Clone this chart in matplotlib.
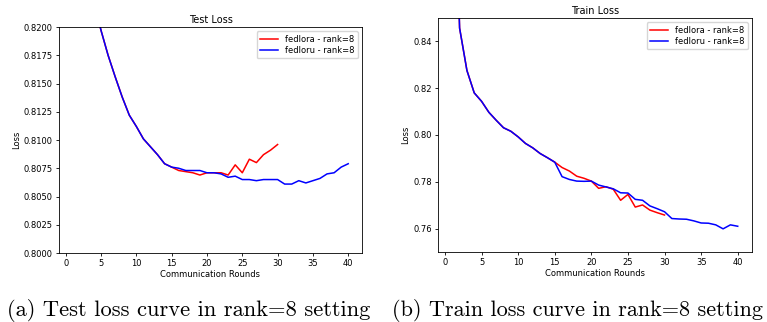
import matplotlib
matplotlib.use("Agg")
import matplotlib.pyplot as plt

rounds_lora = list(range(1, 31))
rounds_loru = list(range(1, 41))

test_common = [0.8340, 0.8290, 0.8252, 0.8222, 0.8197, 0.8175, 0.8156, 0.8138, 0.8122,
               0.8112, 0.8101, 0.8094, 0.8087, 0.8079, 0.8076]
test_lora_tail = [0.8073, 0.8072, 0.8071, 0.8069, 0.8071, 0.8071, 0.8071, 0.8069, 0.8078,
                  0.8071, 0.8083, 0.8080, 0.8087, 0.8091, 0.8096]
test_loru_tail = [0.8075, 0.8073, 0.8073, 0.8073, 0.8071, 0.8071, 0.8070, 0.8067, 0.8068,
                  0.8065, 0.8065, 0.8064, 0.8065, 0.8065, 0.8065, 0.8061, 0.8061, 0.8064,
                  0.8062, 0.8064, 0.8066, 0.8070, 0.8071, 0.8076, 0.8079]
test_lora = test_common + test_lora_tail
test_loru = test_common + test_loru_tail

train_common = [0.9500, 0.8457, 0.8276, 0.8180, 0.8144, 0.8097, 0.8063, 0.8031, 0.8016,
                0.7992, 0.7964, 0.7945, 0.7921, 0.7903, 0.7884]
train_lora_tail = [0.7861, 0.7846, 0.7824, 0.7815, 0.7803, 0.7772, 0.7779, 0.7768, 0.7721,
                   0.7746, 0.7692, 0.7701, 0.7679, 0.7668, 0.7658]
train_loru_tail = [0.7822, 0.7810, 0.7803, 0.7802, 0.7803, 0.7786, 0.7778, 0.7770, 0.7753,
                   0.7752, 0.7725, 0.7721, 0.7697, 0.7685, 0.7672, 0.7643, 0.7641, 0.7640,
                   0.7633, 0.7624, 0.7623, 0.7616, 0.7599, 0.7616, 0.7610]
train_lora = train_common + train_lora_tail
train_loru = train_common + train_loru_tail

labels = ["fedlora - rank=8", "fedloru - rank=8"]
titles = ["Test Loss", "Train Loss"]
captions = ["(a) Test loss curve in rank=8 setting", "(b) Train loss curve in rank=8 setting"]
xticks = [0, 5, 10, 15, 20, 25, 30, 35, 40]

W, H = 767, 322
fig = plt.figure(figsize=(W / 100, H / 100), dpi=100)

def add_ax(x0, y0, x1, y1):
    return fig.add_axes([x0 / W, 1 - y1 / H, (x1 - x0) / W, (y1 - y0) / H])

ax1 = add_ax(59, 27, 362, 253)
ax2 = add_ax(438, 18, 752, 252)

for ax, lora, loru, title in [(ax1, test_lora, test_loru, titles[0]),
                              (ax2, train_lora, train_loru, titles[1])]:
    ax.plot(rounds_lora, lora, color="red", lw=1.1, label=labels[0])
    ax.plot(rounds_loru, loru, color="blue", lw=1.1, label=labels[1])
    ax.set_title(title, fontsize=7, pad=3)
    ax.set_xlabel("Communication Rounds", fontsize=6, labelpad=1)
    ax.set_ylabel("Loss", fontsize=6, labelpad=2)
    ax.set_xticks(xticks)
    ax.set_xlim(-0.95, 41.95)
    ax.tick_params(labelsize=6, length=2.5, width=0.6, pad=2)
    for s in ax.spines.values():
        s.set_linewidth(0.6)
    ax.legend(loc="upper right", fontsize=6, handlelength=2.2, borderpad=0.4,
              labelspacing=0.3, framealpha=0.8)

ax1.set_ylim(0.8, 0.82)
ax1.set_yticks([0.8, 0.8025, 0.805, 0.8075, 0.81, 0.8125, 0.815, 0.8175, 0.82])
ax1.set_yticklabels([f"{v:.4f}" for v in ax1.get_yticks()])
ax2.set_ylim(0.75, 0.85)
ax2.set_yticks([0.76, 0.78, 0.80, 0.82, 0.84])
ax2.set_yticklabels([f"{v:.2f}" for v in ax2.get_yticks()])

fig.text(7 / W, 1 - 311 / H, captions[0], ha="left", va="center",
         fontsize=16.2, family=["cmr10", "DejaVu Serif"])
fig.text(392 / W, 1 - 311 / H, captions[1], ha="left", va="center",
         fontsize=16.0, family=["cmr10", "DejaVu Serif"])

fig.savefig("out.png", dpi=100)
